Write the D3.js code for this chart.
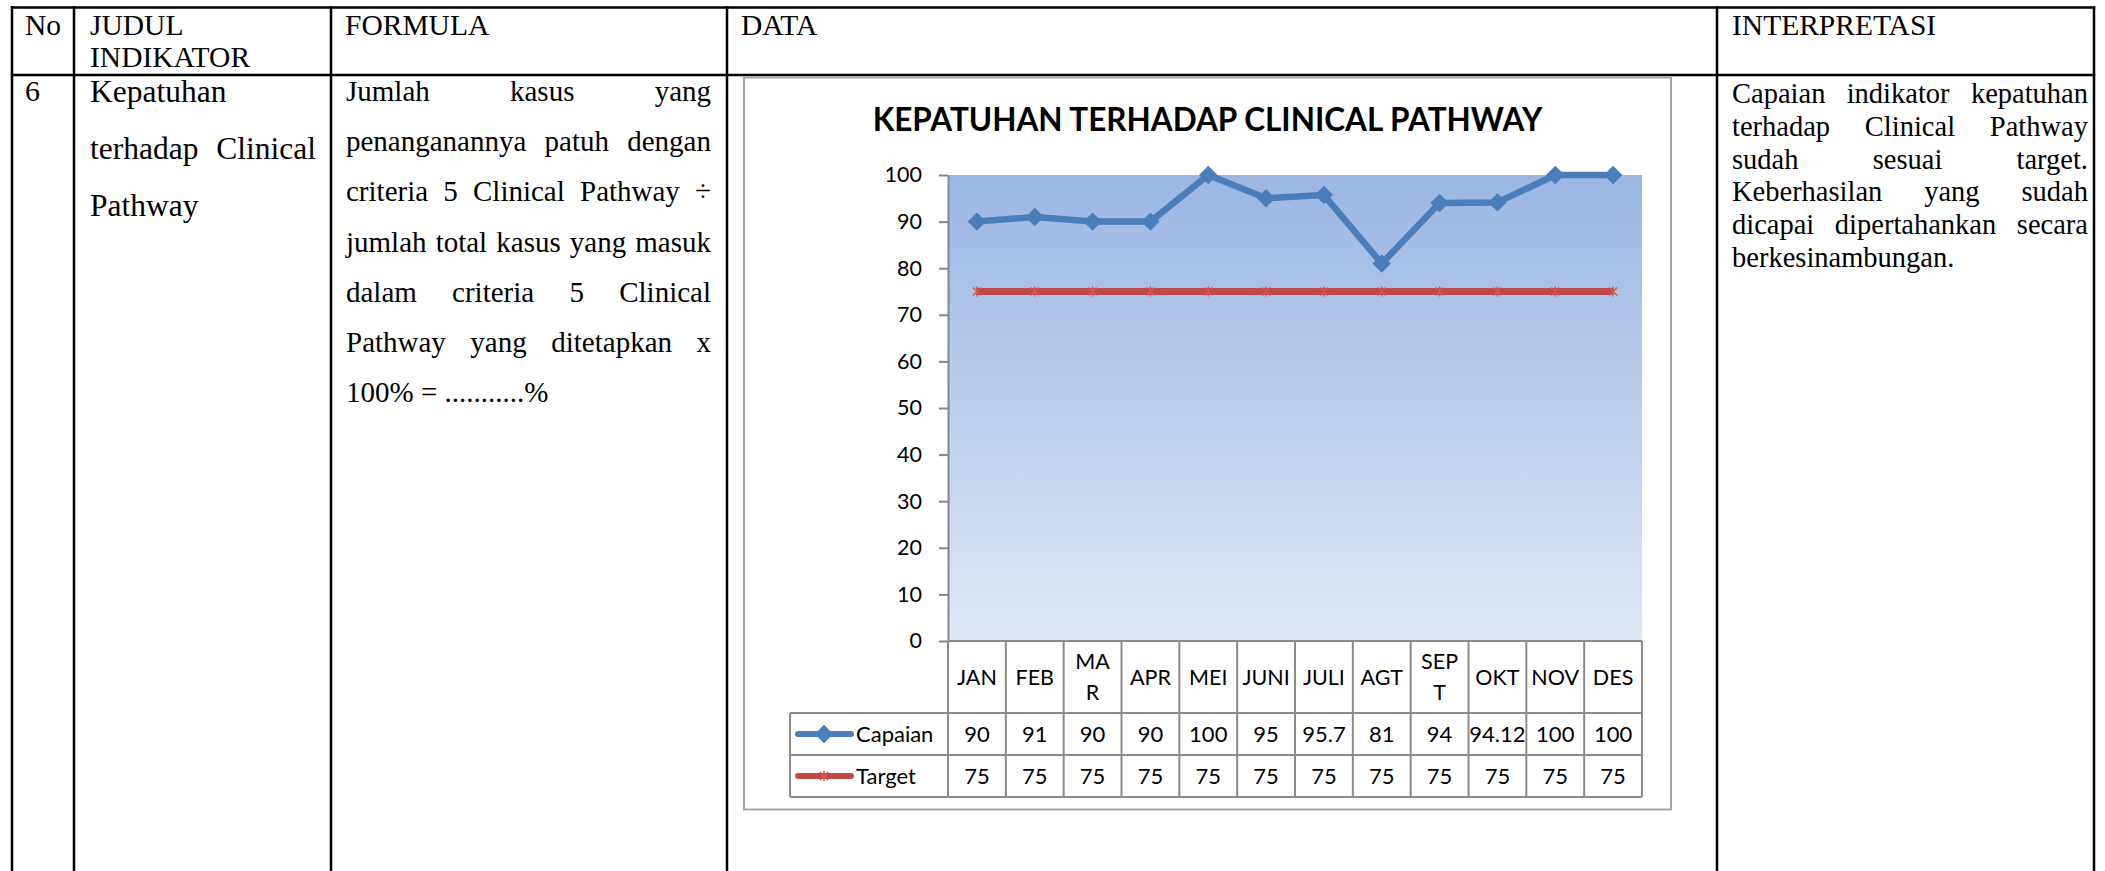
<!DOCTYPE html>
<html>
<head>
<meta charset="utf-8">
<script src="https://cdn.jsdelivr.net/npm/d3@7"></script>
<style>
  body { margin: 0; background: #fff; }
</style>
</head>
<body>
<div id="page"></div>
<script>
// chart data
const months = ["JAN", "FEB", "MAR", "APR", "MEI", "JUNI", "JULI", "AGT", "SEPT", "OKT", "NOV", "DES"];
// category labels as Excel wraps them in the data table
const monthLines = [["JAN"], ["FEB"], ["MA", "R"], ["APR"], ["MEI"], ["JUNI"], ["JULI"], ["AGT"], ["SEP", "T"], ["OKT"], ["NOV"], ["DES"]];
const capaian = [90, 91, 90, 90, 100, 95, 95.7, 81, 94, 94.12, 100, 100];
const target = [75, 75, 75, 75, 75, 75, 75, 75, 75, 75, 75, 75];
const yTicks = [0, 10, 20, 30, 40, 50, 60, 70, 80, 90, 100];
const seriesNames = ["Capaian", "Target"];

// texts of the report table
const headers = ["No", "JUDUL\nINDIKATOR", "FORMULA", "DATA", "INTERPRETASI"];
const rowNo = "6";
const judulLines = ["Kepatuhan", "terhadap Clinical", "Pathway"];
const formulaLines = [
  "Jumlah kasus yang",
  "penanganannya patuh dengan",
  "criteria 5 Clinical Pathway \u00f7",
  "jumlah total kasus yang masuk",
  "dalam criteria 5 Clinical",
  "Pathway yang ditetapkan x",
  "100% = ...........%"
];
const interpLines = [
  "Capaian indikator kepatuhan",
  "terhadap Clinical Pathway",
  "sudah sesuai target.",
  "Keberhasilan yang sudah",
  "dicapai dipertahankan secara",
  "berkesinambungan."
];
const chartTitle = "KEPATUHAN TERHADAP CLINICAL PATHWAY";

const W = 2105, H = 871;
const serif = "'Liberation Serif', 'Times New Roman', serif";
const sans = "Lato, 'Open Sans', sans-serif";

const svg = d3.select("#page").append("svg")
  .attr("width", W)
  .attr("height", H);

svg.append("rect").attr("width", W).attr("height", H).attr("fill", "#fff");

// ---- outer report table ----
const colX = [12, 74, 331, 727, 1717, 2094];
const topY = 7.5, headY = 75;

const grid = svg.append("g").attr("stroke", "#000").attr("stroke-width", 2.5);
colX.forEach(x => {
  grid.append("line").attr("x1", x).attr("x2", x).attr("y1", topY - 1.25).attr("y2", H);
});
[topY, headY].forEach(y => {
  grid.append("line").attr("x1", colX[0] - 1.25).attr("x2", colX[5] + 1.25).attr("y1", y).attr("y2", y);
});

const headX = [25, 90, 345, 741, 1732];
headers.forEach((h, i) => {
  h.split("\n").forEach((ln, j) => {
    svg.append("text")
      .attr("x", headX[i]).attr("y", 35 + j * 32)
      .attr("font-family", serif).attr("font-size", 29.5)
      .text(ln);
  });
});

// writes lines of text, justified between x0 and x1 (last line left)
function textBlock(lines, x0, x1, y0, lh, size) {
  const g = svg.append("g").attr("font-family", serif).attr("font-size", size);
  lines.forEach((ln, i) => {
    const y = y0 + i * lh;
    const words = ln.split(" ");
    if (i === lines.length - 1 || words.length < 2) {
      g.append("text").attr("x", x0).attr("y", y).text(ln);
      return;
    }
    const nodes = words.map(w => g.append("text").attr("y", y).text(w));
    const widths = nodes.map(n => n.node().getComputedTextLength());
    const gap = (x1 - x0 - d3.sum(widths)) / (words.length - 1);
    let cx = x0;
    nodes.forEach((n, k) => {
      n.attr("x", cx);
      cx += widths[k] + gap;
    });
  });
}

svg.append("text").attr("x", 25).attr("y", 101)
  .attr("font-family", serif).attr("font-size", 30).text(rowNo);
textBlock(judulLines, 90, 316, 102, 57, 31.5);
textBlock(formulaLines, 346, 711, 101, 50.2, 29);
textBlock(interpLines, 1732, 2088, 103, 32.8, 28.5);

// ---- chart ----
const box = { x: 744, y: 77.5, w: 927, h: 732 };
svg.append("rect")
  .attr("x", box.x).attr("y", box.y).attr("width", box.w).attr("height", box.h)
  .attr("fill", "#fff").attr("stroke", "#a6a6a6").attr("stroke-width", 2);

const plot = { left: 948, right: 1642, top: 175, bottom: 641 };

const x = d3.scaleBand().domain(months).range([plot.left, plot.right]);
const y = d3.scaleLinear().domain([0, 100]).range([plot.bottom, plot.top]);
const bw = x.bandwidth();
const cx = m => x(m) + bw / 2;

const defs = svg.append("defs");
const grad = defs.append("linearGradient").attr("id", "plotfill")
  .attr("x1", 0).attr("y1", 0).attr("x2", 0).attr("y2", 1);
grad.append("stop").attr("offset", "0%").attr("stop-color", "#9bb6e3");
grad.append("stop").attr("offset", "100%").attr("stop-color", "#dfe7f4");

svg.append("rect")
  .attr("x", plot.left).attr("y", y(100))
  .attr("width", plot.right - plot.left).attr("height", y(0) - y(100))
  .attr("fill", "url(#plotfill)");

// title, fitted to the width it has in the picture
const title = svg.append("text")
  .attr("x", box.x + box.w / 2).attr("y", 131)
  .attr("text-anchor", "middle")
  .attr("font-family", sans).attr("font-weight", 700).attr("font-size", 30)
  .attr("fill", "#000")
  .text(chartTitle);
const tw = title.node().getComputedTextLength();
title.attr("font-size", 30 * 670 / tw);

// y axis
const yAxis = svg.append("g")
  .attr("transform", `translate(${plot.left},0)`)
  .call(d3.axisLeft(y).tickValues(yTicks).tickSize(9).tickSizeOuter(0).tickPadding(17));
yAxis.select(".domain").attr("stroke", "#868686").attr("stroke-width", 2);
yAxis.selectAll(".tick line").attr("stroke", "#868686").attr("stroke-width", 2);
yAxis.selectAll(".tick text")
  .attr("font-family", sans).attr("font-size", 21.5).attr("fill", "#000");

// series lines
const line = d3.line()
  .x((d, i) => cx(months[i]))
  .y(d => y(d));

svg.append("path")
  .datum(target)
  .attr("d", line)
  .attr("fill", "none")
  .attr("stroke", "#be4b48")
  .attr("stroke-width", 7);

svg.append("g").selectAll("path")
  .data(target)
  .join("path")
  .attr("transform", (d, i) => `translate(${cx(months[i])},${y(d)})`)
  .attr("d", "M-4,-4L4,4M-4,4L4,-4M0,-5L0,5")
  .attr("stroke", "#d9534f")
  .attr("stroke-width", 1.5);

svg.append("path")
  .datum(capaian)
  .attr("d", line)
  .attr("fill", "none")
  .attr("stroke", "#4a7ebb")
  .attr("stroke-width", 6.5)
  .attr("stroke-linejoin", "round");

const diamond = d3.symbol().type(d3.symbolSquare).size(170);
svg.append("g").selectAll("path")
  .data(capaian)
  .join("path")
  .attr("transform", (d, i) => `translate(${cx(months[i])},${y(d)}) rotate(45)`)
  .attr("d", diamond)
  .attr("fill", "#4a7ebb");

// data table under the plot
const rowTop = plot.bottom, catBottom = 713, row1Bottom = 755, row2Bottom = 797;
const legendLeft = 790;
const tbl = svg.append("g").attr("stroke", "#8c8c8c").attr("stroke-width", 2);

d3.range(months.length + 1).forEach(i => {
  const xx = plot.left + i * bw;
  tbl.append("line").attr("x1", xx).attr("x2", xx).attr("y1", rowTop).attr("y2", row2Bottom);
});
tbl.append("line").attr("x1", plot.left).attr("x2", plot.right).attr("y1", rowTop).attr("y2", rowTop);
[catBottom, row1Bottom, row2Bottom].forEach(yy => {
  tbl.append("line").attr("x1", legendLeft).attr("x2", plot.right).attr("y1", yy).attr("y2", yy);
});
tbl.append("line").attr("x1", legendLeft).attr("x2", legendLeft).attr("y1", catBottom).attr("y2", row2Bottom);

const cats = svg.append("g").attr("font-family", sans).attr("font-size", 21.5)
  .attr("text-anchor", "middle").attr("fill", "#000");
months.forEach((m, i) => {
  const lines = monthLines[i];
  const midY = (rowTop + catBottom) / 2;
  lines.forEach((ln, j) => {
    cats.append("text")
      .attr("x", cx(m))
      .attr("y", midY + (j - (lines.length - 1) / 2) * 31)
      .attr("dy", "0.35em")
      .text(ln);
  });
});

const rowsData = [capaian, target];
const rowMid = [(catBottom + row1Bottom) / 2, (row1Bottom + row2Bottom) / 2];
rowsData.forEach((vals, r) => {
  svg.append("g").selectAll("text")
    .data(vals)
    .join("text")
    .attr("x", (d, i) => cx(months[i]))
    .attr("y", rowMid[r])
    .attr("dy", "0.35em")
    .attr("text-anchor", "middle")
    .attr("font-family", sans).attr("font-size", 22)
    .text(d => String(d));
});

// legend keys in the table
const keyColors = ["#4a7ebb", "#be4b48"];
seriesNames.forEach((name, r) => {
  const yy = rowMid[r];
  svg.append("line")
    .attr("x1", 798).attr("x2", 851).attr("y1", yy).attr("y2", yy)
    .attr("stroke", keyColors[r]).attr("stroke-width", 6).attr("stroke-linecap", "round");
  if (r === 0) {
    svg.append("path")
      .attr("transform", `translate(824,${yy}) rotate(45)`)
      .attr("d", diamond).attr("fill", keyColors[0]);
  } else {
    svg.append("path")
      .attr("transform", `translate(824,${yy})`)
      .attr("d", "M-4,-4L4,4M-4,4L4,-4M0,-5L0,5")
      .attr("stroke", "#d9534f").attr("stroke-width", 1.5);
  }
  svg.append("text")
    .attr("x", 856).attr("y", yy).attr("dy", "0.35em")
    .attr("font-family", sans).attr("font-size", 22)
    .text(name);
});
</script>
</body>
</html>
